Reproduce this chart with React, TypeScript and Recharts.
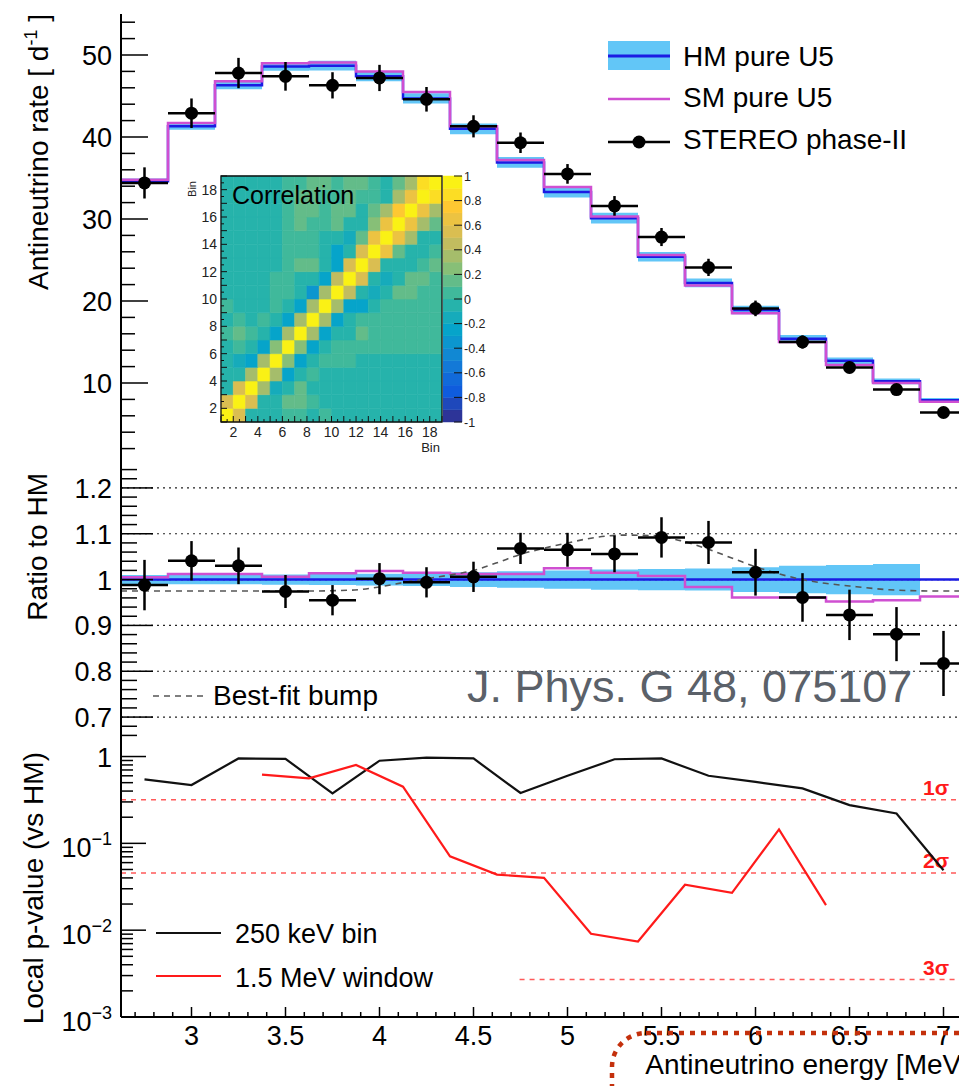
import React from 'react';
import {
  ComposedChart,
  Line,
  Area,
  Scatter,
  ErrorBar,
  XAxis,
  YAxis,
  ReferenceLine,
  ReferenceArea,
} from 'recharts';

const FONT = '"Liberation Sans", Arial, Helvetica, sans-serif';

// 18 bins of 250 keV
const binEdges = [2.625, 2.875, 3.125, 3.375, 3.625, 3.875, 4.125, 4.375, 4.625, 4.875, 5.125, 5.375, 5.625, 5.875, 6.125, 6.375, 6.625, 6.875, 7.125];
const binCenters = [2.75, 3.0, 3.25, 3.5, 3.75, 4.0, 4.25, 4.5, 4.75, 5.0, 5.25, 5.5, 5.75, 6.0, 6.25, 6.5, 6.75, 7.0];
const binHalfWidth = 0.125;

// rates [1/day]
const hmRate = [34.6, 41.3, 46.3, 48.6, 48.7, 47.4, 44.7, 41.0, 36.9, 33.3, 30.1, 25.4, 22.2, 18.9, 15.4, 12.7, 10.2, 7.9];
const smRate = [34.8, 41.7, 46.8, 49.0, 49.1, 48.0, 45.5, 41.3, 37.2, 33.9, 30.3, 25.6, 21.9, 18.5, 15.0, 12.2, 10.0, 7.7];
const hmRelUnc = [0.010, 0.010, 0.010, 0.011, 0.012, 0.013, 0.014, 0.016, 0.018, 0.020, 0.022, 0.023, 0.024, 0.027, 0.030, 0.032, 0.034, 0.036];
const stereoRate = [34.4, 42.9, 47.8, 47.4, 46.3, 47.2, 44.6, 41.3, 39.3, 35.5, 31.6, 27.8, 24.1, 19.1, 15.0, 11.9, 9.2, 6.4];
const stereoRateErr = [1.9, 1.8, 1.85, 1.75, 1.6, 1.6, 1.5, 1.35, 1.25, 1.2, 1.2, 1.1, 1.05, 0.95, 0.8, 0.7, 0.6, 0.55];

// ratios to HM
const stereoRatio = [0.988, 1.041, 1.030, 0.974, 0.955, 1.002, 0.994, 1.006, 1.068, 1.065, 1.056, 1.092, 1.081, 1.016, 0.961, 0.923, 0.881, 0.817];
const stereoRatioErr = [0.055, 0.043, 0.040, 0.036, 0.033, 0.034, 0.033, 0.033, 0.034, 0.037, 0.040, 0.044, 0.047, 0.051, 0.053, 0.055, 0.059, 0.071];
const smRatio = [1.005, 1.012, 1.012, 1.006, 1.014, 1.019, 1.015, 1.012, 1.012, 1.025, 1.015, 1.008, 0.984, 0.961, 0.961, 0.952, 0.955, 0.963];
const bumpEnergy = [2.625, 3.6, 3.85, 4.0, 4.12, 4.25, 4.375, 4.5, 4.62, 4.75, 4.87, 5.0, 5.15, 5.3, 5.45, 5.6, 5.75, 5.9, 6.0, 6.12, 6.25, 6.37, 6.5, 6.75, 7.0, 7.125];
const bumpRatio = [0.975, 0.975, 0.977, 0.984, 0.993, 1.002, 1.010, 1.020, 1.036, 1.055, 1.068, 1.080, 1.092, 1.097, 1.096, 1.085, 1.066, 1.043, 1.028, 1.013, 1.000, 0.992, 0.986, 0.977, 0.975, 0.975];
const ratioGrid = [0.7, 0.8, 0.9, 1.0, 1.1, 1.2];

// local p-values
const pBin = [0.546, 0.47, 0.95, 0.94, 0.376, 0.895, 0.97, 0.95, 0.38, 0.60, 0.93, 0.95, 0.60, 0.51, 0.43, 0.276, 0.221, 0.049];
const windowCenters = [3.375, 3.625, 3.875, 4.125, 4.375, 4.625, 4.875, 5.125, 5.375, 5.625, 5.875, 6.125, 6.375];
const pWindow = [0.62, 0.56, 0.80, 0.45, 0.071, 0.0437, 0.040, 0.0091, 0.0074, 0.0334, 0.0269, 0.145, 0.0194];
const sigmaNames = ['1σ', '2σ', '3σ'];
const sigmaP = [0.3173, 0.0455, 0.0027];
const sigmaFrom = [2.625, 2.625, 4.745];

// bin-to-bin correlation (row = y bin, col = x bin)
const corrMatrix = [
  [1, 0.5, -0.05, -0.05, -0.05, 0.05, 0.05, -0.05, 0.05, -0.05, -0.05, -0.05, -0.05, -0.05, -0.05, -0.05, -0.05, -0.05],
  [0.5, 1, 0.5, -0.1, -0.05, 0.1, 0.1, 0.05, -0.05, -0.05, -0.05, -0.05, -0.05, -0.05, -0.05, -0.05, -0.05, -0.05],
  [-0.05, 0.55, 1, 0.3, -0.15, -0.05, 0.1, -0.05, -0.05, -0.05, -0.05, -0.05, -0.05, -0.05, -0.05, -0.05, -0.05, -0.05],
  [-0.1, -0.05, 0.3, 1, 0.3, -0.3, -0.05, 0.05, -0.05, -0.05, -0.05, -0.05, -0.05, -0.05, -0.05, -0.05, -0.05, -0.05],
  [-0.05, -0.15, -0.25, 0.3, 1, 0.25, -0.3, -0.05, 0.05, 0.05, 0.05, -0.05, -0.05, -0.05, -0.05, -0.05, -0.05, -0.05],
  [-0.05, 0.05, -0.05, -0.3, 0.25, 1, 0.25, -0.3, -0.05, 0.05, 0.05, 0.05, 0.05, 0.05, 0.05, 0.05, 0.05, 0.05],
  [0.05, 0.1, 0.05, -0.05, -0.3, 0.3, 1, 0.3, -0.3, -0.05, -0.05, 0.1, 0.05, 0.05, 0.05, 0.05, 0.05, 0.05],
  [-0.05, 0.05, -0.05, 0.05, -0.05, -0.3, 0.3, 1, 0.3, -0.3, -0.05, 0.05, 0.05, 0.05, 0.05, 0.05, 0.05, 0.05],
  [0.05, -0.05, -0.05, -0.05, 0.05, -0.05, -0.3, 0.3, 1, 0.35, -0.3, -0.25, -0.05, 0.05, 0.05, 0.05, 0.05, 0.05],
  [-0.05, -0.05, -0.05, -0.05, 0.05, 0.05, -0.05, -0.35, 0.35, 1, 0.45, -0.05, -0.2, -0.05, 0.1, 0.1, 0.05, 0.05],
  [-0.05, -0.05, -0.05, -0.05, 0.05, 0.05, -0.05, -0.05, -0.3, 0.45, 1, 0.5, -0.05, -0.15, -0.05, 0.1, 0.1, 0.05],
  [-0.05, -0.05, -0.05, -0.05, -0.05, 0.05, 0.1, 0.15, -0.05, -0.3, 0.5, 1, 0.55, -0.1, -0.05, -0.05, 0.05, 0.1],
  [-0.05, -0.05, -0.05, -0.05, -0.05, 0.05, 0.05, 0.05, -0.05, -0.3, -0.05, 0.55, 1, 0.6, 0.1, -0.05, -0.05, 0.05],
  [-0.05, -0.05, -0.05, -0.05, -0.05, 0.05, 0.05, 0.05, -0.05, -0.05, -0.15, 0.1, 0.6, 1, 0.65, 0.3, -0.05, -0.05],
  [-0.05, -0.05, -0.05, -0.05, -0.05, 0.05, 0.1, 0.05, 0.05, 0.1, -0.05, -0.05, 0.2, 0.65, 1, 0.65, 0.3, 0.1],
  [-0.05, -0.05, -0.05, -0.05, -0.05, 0.05, 0.1, 0.1, 0.05, 0.1, 0.1, -0.05, 0.1, 0.35, 0.7, 1, 0.65, 0.35],
  [-0.05, -0.05, -0.05, -0.05, -0.05, 0.05, 0.1, 0.1, 0.05, 0.05, 0.1, 0.05, 0.05, -0.05, 0.3, 0.65, 1, 0.85],
  [-0.05, -0.05, -0.05, -0.05, -0.05, 0.05, 0.05, 0.1, 0.1, 0.05, 0.1, 0.1, 0.05, -0.05, 0.1, 0.35, 0.85, 1],
];

// axis ticks
const energyTicks = Array.from({ length: 45 }, (_, k) => Math.round((2.7 + k * 0.1) * 10) / 10);
const rateTicks = Array.from({ length: 27 }, (_, k) => 2 + 2 * k);
const ratioTicks = Array.from({ length: 30 }, (_, k) => Math.round((0.66 + 0.02 * k) * 100) / 100);
const pTicks = [-3, -2, -1].flatMap((d) => [1, 2, 3, 4, 5, 6, 7, 8, 9].map((m) => m * Math.pow(10, d))).concat([1]);
const binTicks = Array.from({ length: 37 }, (_, k) => 1 + k * 0.5);
const paletteTicks = [-1, -0.8, -0.6, -0.4, -0.2, 0, 0.2, 0.4, 0.6, 0.8, 1];
const paletteLevels = Array.from({ length: 20 }, (_, k) => Math.round((-1 + k * 0.1) * 10) / 10);

// ROOT kBird palette
const birdStops = [
  [0.2082, 0.1664, 0.5293], [0.0592, 0.3599, 0.8684], [0.078, 0.5041, 0.8385],
  [0.0232, 0.6419, 0.7914], [0.1802, 0.7178, 0.6425], [0.5301, 0.7492, 0.4662],
  [0.8186, 0.7328, 0.3499], [0.9956, 0.7862, 0.1968], [0.9764, 0.9832, 0.0539],
];
function birdColor(c: number) {
  const k = Math.min(19, Math.max(0, Math.floor((c + 1) / 0.1 + 1e-9)));
  const t = ((k + 0.5) / 20) * 8;
  const i = Math.min(7, Math.floor(t));
  const f = t - i;
  const rgb = birdStops[i].map((s, ch) => Math.round(255 * (s + (birdStops[i + 1][ch] - s) * f)));
  return `rgb(${rgb.join(',')})`;
}

const BLUE = '#1b1be3';
const BAND = '#62c6f7';
const MAGENTA = '#cf4fd1';
const frameLine = { stroke: '#000', strokeWidth: 2 };

// series tables
const stepOf = (vals: number[]) => binEdges.map((e, i) => ({ e, v: vals[Math.min(i, vals.length - 1)] }));
const bandOf = (center: number[], rel: number[]) =>
  binEdges.map((e, i) => {
    const k = Math.min(i, center.length - 1);
    return { e, band: [center[k] * (1 - rel[k]), center[k] * (1 + rel[k])] };
  });

const hmStep = stepOf(hmRate);
const smStep = stepOf(smRate);
const hmBand = bandOf(hmRate, hmRelUnc);
const stereoPts = binCenters.map((e, i) => ({ e, v: stereoRate[i], ey: stereoRateErr[i], ex: binHalfWidth }));

const hmRatioStep = binEdges.map((e) => ({ e, v: 1 }));
const hmRatioBand = bandOf(binEdges.map(() => 1), hmRelUnc);
const smRatioStep = stepOf(smRatio);
const ratioPts = binCenters.map((e, i) => ({ e, v: stereoRatio[i], ey: stereoRatioErr[i], ex: binHalfWidth }));
const bumpLine = bumpEnergy.map((e, i) => ({ e, v: bumpRatio[i] }));

const pBinLine = binCenters.map((e, i) => ({ e, v: pBin[i] }));
const pWindowLine = windowCenters.map((e, i) => ({ e, v: pWindow[i] }));

function EnergyTick(props: any) {
  const { x, y, payload, side, majorLen, minorLen, labelled } = props;
  const v = payload.value;
  const major = Math.round(v * 10) % 5 === 0;
  const len = major ? majorLen : minorLen;
  const dir = side === 'top' ? 1 : -1;
  return (
    <g>
      <line x1={x} x2={x} y1={y} y2={y + dir * len} stroke="#000" strokeWidth={1.5} />
      {labelled && major ? (
        <text x={x} y={y + 28} textAnchor="middle" fontSize={27} fontFamily={FONT} fill="#000">
          {String(v)}
        </text>
      ) : null}
    </g>
  );
}

function ValueTick(props: any) {
  const { x, y, payload, kind, majorLen, minorLen } = props;
  const v = payload.value;
  let major = false;
  let label: React.ReactNode = null;
  if (kind === 'rate') {
    major = v % 10 === 0;
    label = String(v);
  } else if (kind === 'ratio') {
    major = Math.round(v * 100) % 10 === 0;
    label = String(v);
  } else {
    const d = Math.round(Math.log10(v));
    major = Math.abs(Math.log10(v) - d) < 1e-6;
    label = d === 0 ? '1' : (
      <>
        10<tspan dy={-12} fontSize={18}>{`−${-d}`}</tspan>
      </>
    );
  }
  const len = major ? majorLen : minorLen;
  const dy = kind === 'p' && major && v !== 1 ? 14 : 10;
  return (
    <g>
      <line x1={x} x2={x + len} y1={y} y2={y} stroke="#000" strokeWidth={1.5} />
      {major ? (
        <text x={x - 9} y={y + dy} textAnchor="end" fontSize={27} fontFamily={FONT} fill="#000">
          {label}
        </text>
      ) : null}
    </g>
  );
}

function BinTick(props: any) {
  const { x, y, payload, side } = props;
  const v = payload.value;
  const even = Number.isInteger(v) && v % 2 === 0;
  const len = Number.isInteger(v) ? 6 : 3;
  if (side === 'bottom') {
    return (
      <g>
        <line x1={x} x2={x} y1={y} y2={y - len} stroke="#111" strokeWidth={1} />
        {even ? (
          <text x={x} y={y + 15} textAnchor="middle" fontSize={14} fontFamily={FONT} fill="#222">{v}</text>
        ) : null}
      </g>
    );
  }
  return (
    <g>
      <line x1={x} x2={x + len} y1={y} y2={y} stroke="#111" strokeWidth={1} />
      {even ? (
        <text x={x - 4} y={y + 5} textAnchor="end" fontSize={14} fontFamily={FONT} fill="#222">{v}</text>
      ) : null}
    </g>
  );
}

function PaletteTick(props: any) {
  const { x, y, payload } = props;
  return (
    <g>
      <line x1={x - 8} x2={x} y1={y} y2={y} stroke="#111" strokeWidth={1} />
      <text x={x + 2} y={y + 4.5} fontSize={12.5} fontFamily={FONT} fill="#222">{String(payload.value)}</text>
    </g>
  );
}

function SigmaLabel(props: any) {
  const { viewBox, text } = props;
  if (!viewBox) return null;
  return (
    <text
      x={viewBox.x + viewBox.width - 18}
      y={viewBox.y - 5}
      textAnchor="end"
      fontSize={21}
      fontWeight="bold"
      fontFamily={FONT}
      fill="#ff1a1a"
    >
      {text}
    </text>
  );
}

const dot = (p: any) => <circle cx={p.cx} cy={p.cy} r={6.5} fill="#000" />;

function energyAxes(bottomMajor: number, bottomMinor: number, topMajor: number, topMinor: number, labelled: boolean, height: number) {
  return [
    <XAxis
      key="xb"
      type="number"
      dataKey="e"
      domain={[2.625, 7.125]}
      allowDataOverflow
      ticks={energyTicks}
      interval={0}
      height={height}
      tickSize={0}
      tickMargin={0}
      axisLine={frameLine}
      tickLine={false}
      tick={<EnergyTick side="bottom" majorLen={bottomMajor} minorLen={bottomMinor} labelled={labelled} />}
    />,
    <XAxis
      key="xt"
      xAxisId="top"
      orientation="top"
      type="number"
      dataKey="e"
      domain={[2.625, 7.125]}
      allowDataOverflow
      ticks={energyTicks}
      interval={0}
      height={0}
      tickSize={0}
      tickMargin={0}
      axisLine={frameLine}
      tickLine={false}
      tick={<EnergyTick side="top" majorLen={topMajor} minorLen={topMinor} labelled={false} />}
    />,
  ];
}

function RatePanel() {
  return (
    <ComposedChart width={990} height={466} margin={{ top: 14, right: 23, bottom: 1, left: 0 }}>
      {energyAxes(10, 5, 11, 5.5, false, 0)}
      <YAxis
        type="number"
        domain={[0, 55]}
        allowDataOverflow
        ticks={rateTicks}
        interval={0}
        width={121}
        tickSize={0}
        tickMargin={0}
        axisLine={frameLine}
        tickLine={false}
        tick={<ValueTick kind="rate" majorLen={27} minorLen={14} />}
      />
      <Area data={hmBand} dataKey="band" type="stepAfter" fill={BAND} fillOpacity={1} stroke="none" isAnimationActive={false} />
      <Line data={hmStep} dataKey="v" type="stepAfter" stroke={BLUE} strokeWidth={2.5} dot={false} isAnimationActive={false} />
      <Line data={smStep} dataKey="v" type="stepAfter" stroke={MAGENTA} strokeWidth={2.5} dot={false} isAnimationActive={false} />
      <Scatter data={stereoPts} dataKey="v" shape={dot} isAnimationActive={false}>
        <ErrorBar dataKey="ey" direction="y" width={0} stroke="#000" strokeWidth={2.5} isAnimationActive={false} />
        <ErrorBar dataKey="ex" direction="x" width={0} stroke="#000" strokeWidth={2.5} isAnimationActive={false} />
      </Scatter>
    </ComposedChart>
  );
}

function RatioPanel() {
  return (
    <ComposedChart width={990} height={276} margin={{ top: 0, right: 23, bottom: 1, left: 0 }}>
      {energyAxes(6, 3.5, 7, 4, false, 0)}
      <YAxis
        type="number"
        domain={[0.65, 1.25]}
        allowDataOverflow
        ticks={ratioTicks}
        interval={0}
        width={121}
        tickSize={0}
        tickMargin={0}
        axisLine={frameLine}
        tickLine={false}
        tick={<ValueTick kind="ratio" majorLen={32} minorLen={16} />}
      />
      {ratioGrid.map((g) => (
        <ReferenceLine key={g} y={g} stroke="#222" strokeWidth={1.2} strokeDasharray="2 4" />
      ))}
      <Area data={hmRatioBand} dataKey="band" type="stepAfter" fill={BAND} fillOpacity={1} stroke="none" isAnimationActive={false} />
      <Line data={hmRatioStep} dataKey="v" type="stepAfter" stroke={BLUE} strokeWidth={2.5} dot={false} isAnimationActive={false} />
      <Line data={smRatioStep} dataKey="v" type="stepAfter" stroke={MAGENTA} strokeWidth={2.5} dot={false} isAnimationActive={false} />
      <Line data={bumpLine} dataKey="v" type="monotone" stroke="#555" strokeWidth={1.6} strokeDasharray="6 5" dot={false} isAnimationActive={false} />
      <Scatter data={ratioPts} dataKey="v" shape={dot} isAnimationActive={false}>
        <ErrorBar dataKey="ey" direction="y" width={0} stroke="#000" strokeWidth={2.5} isAnimationActive={false} />
        <ErrorBar dataKey="ex" direction="x" width={0} stroke="#000" strokeWidth={2.5} isAnimationActive={false} />
      </Scatter>
    </ComposedChart>
  );
}

function PValuePanel() {
  return (
    <ComposedChart width={990} height={346} margin={{ top: 0, right: 23, bottom: 0, left: 0 }}>
      {energyAxes(10, 5, 7, 4, true, 69)}
      <YAxis
        type="number"
        scale="log"
        domain={[0.001, 1.55]}
        allowDataOverflow
        ticks={pTicks}
        interval={0}
        width={121}
        tickSize={0}
        tickMargin={0}
        axisLine={frameLine}
        tickLine={false}
        tick={<ValueTick kind="p" majorLen={25} minorLen={12} />}
      />
      {sigmaP.map((p, i) => (
        <ReferenceLine
          key={sigmaNames[i]}
          segment={[{ x: sigmaFrom[i], y: p }, { x: 7.125, y: p }]}
          stroke="#ff5a5a"
          strokeWidth={1.5}
          strokeDasharray="5 5"
          label={<SigmaLabel text={sigmaNames[i]} />}
        />
      ))}
      <Line data={pBinLine} dataKey="v" type="linear" stroke="#111" strokeWidth={2.2} dot={false} isAnimationActive={false} />
      <Line data={pWindowLine} dataKey="v" type="linear" stroke="#ff1a1a" strokeWidth={2.2} dot={false} isAnimationActive={false} />
    </ComposedChart>
  );
}

function CorrelationInset() {
  return (
    <ComposedChart width={300} height={300} margin={{ top: 16, right: 8, bottom: 0, left: 0 }}>
      <XAxis
        type="number"
        dataKey="x"
        domain={[1, 19]}
        allowDataOverflow
        ticks={binTicks}
        interval={0}
        height={38}
        tickSize={0}
        tickMargin={0}
        axisLine={false}
        tickLine={false}
        tick={<BinTick side="bottom" />}
      />
      <YAxis
        type="number"
        domain={[1, 19]}
        allowDataOverflow
        ticks={binTicks}
        interval={0}
        width={71}
        tickSize={0}
        tickMargin={0}
        axisLine={false}
        tickLine={false}
        tick={<BinTick side="left" />}
      />
      {corrMatrix.flatMap((row, i) =>
        row.map((c, j) => {
          const col = birdColor(c);
          return (
            <ReferenceArea
              key={`${i}-${j}`}
              x1={j + 1}
              x2={j + 2}
              y1={i + 1}
              y2={i + 2}
              fill={col}
              fillOpacity={1}
              stroke={col}
              strokeWidth={0.6}
            />
          );
        }),
      )}
      <ReferenceArea x1={1} x2={19} y1={1} y2={19} fill="none" stroke="#111" strokeWidth={1.3} />
    </ComposedChart>
  );
}

function PaletteAxis() {
  return (
    <ComposedChart width={55} height={300} margin={{ top: 16, right: 0, bottom: 0, left: 0 }}>
      <XAxis type="number" dataKey="x" domain={[0, 1]} allowDataOverflow height={38} tick={false} axisLine={false} tickLine={false} />
      <YAxis
        type="number"
        orientation="right"
        domain={[-1, 1]}
        allowDataOverflow
        ticks={paletteTicks}
        interval={0}
        width={36}
        tickSize={0}
        tickMargin={0}
        axisLine={false}
        tickLine={false}
        tick={<PaletteTick />}
      />
      {paletteLevels.map((lv) => (
        <ReferenceArea
          key={lv}
          x1={0}
          x2={1}
          y1={lv}
          y2={lv + 0.1}
          fill={birdColor(lv + 0.05)}
          fillOpacity={1}
          stroke={birdColor(lv + 0.05)}
          strokeWidth={0.5}
        />
      ))}
    </ComposedChart>
  );
}

function Annotations() {
  return (
    <svg width={959} height={1086} style={{ position: 'absolute', left: 0, top: 0, pointerEvents: 'none' }} fontFamily={FONT}>
      {/* axis titles */}
      <text transform="translate(48,14) rotate(-90)" textAnchor="end" fontSize={28} fill="#000">
        Antineutrino rate [ d<tspan dy={-11} fontSize={18}>-1</tspan><tspan dy={11}> ]</tspan>
      </text>
      <text transform="translate(47,473) rotate(-90)" textAnchor="end" fontSize={28} fill="#000">
        Ratio to HM
      </text>
      <text transform="translate(43,752) rotate(-90)" textAnchor="end" fontSize={28} fill="#000">
        Local p-value (vs HM)
      </text>
      <text x={969} y={1074} textAnchor="end" fontSize={28} fill="#000">
        Antineutrino energy [MeV]
      </text>

      {/* rate legend */}
      <rect x={608} y={41} width={62} height={29} fill={BAND} />
      <line x1={608} x2={670} y1={56} y2={56} stroke={BLUE} strokeWidth={3} />
      <text x={683} y={66} fontSize={28} fill="#000">HM pure U5</text>
      <line x1={608} x2={670} y1={99} y2={99} stroke={MAGENTA} strokeWidth={2.5} />
      <text x={683} y={107} fontSize={28} fill="#000">SM pure U5</text>
      <line x1={608} x2={670} y1={142} y2={142} stroke="#000" strokeWidth={2.5} />
      <circle cx={639} cy={142} r={6.5} fill="#000" />
      <text x={683} y={149} fontSize={28} fill="#000">STEREO phase-II</text>

      {/* correlation inset labels */}
      <text x={232} y={204} fontSize={25} fill="#000">Correlation</text>
      <text x={440} y={452} textAnchor="end" fontSize={13} fill="#222">Bin</text>
      <text transform="translate(196,181) rotate(-90)" textAnchor="end" fontSize={11} fill="#222">Bin</text>

      {/* ratio legend */}
      <line x1={153} x2={203} y1={696} y2={696} stroke="#555" strokeWidth={1.6} strokeDasharray="6 5" />
      <text x={213} y={705} fontSize={28} fill="#000">Best-fit bump</text>
      <text x={467} y={702} fontSize={45} fill="#5b6169">J. Phys. G 48, 075107</text>

      {/* p-value legend */}
      <line x1={156} x2={221} y1={933} y2={933} stroke="#111" strokeWidth={2.2} />
      <text x={235} y={943} fontSize={27} fill="#000">250 keV bin</text>
      <line x1={156} x2={221} y1={976} y2={976} stroke="#ff1a1a" strokeWidth={2.2} />
      <text x={235} y={987} fontSize={27} fill="#000">1.5 MeV window</text>

      {/* dotted callout round the energy axis title */}
      <rect x={612} y={1033} width={420} height={120} rx={34} fill="none" stroke="#c4300c" strokeWidth={4.5} strokeDasharray="5 6" />
    </svg>
  );
}

export default function App() {
  return (
    <div style={{ position: 'fixed', left: 0, top: 0, width: 959, height: 1086, overflow: 'hidden', background: '#fff', fontFamily: FONT }}>
      <div style={{ position: 'absolute', left: 0, top: 0 }}>
        <RatePanel />
      </div>
      <div style={{ position: 'absolute', left: 0, top: 465 }}>
        <RatioPanel />
      </div>
      <div style={{ position: 'absolute', left: 0, top: 740 }}>
        <PValuePanel />
      </div>
      <div style={{ position: 'absolute', left: 150, top: 160 }}>
        <CorrelationInset />
      </div>
      <div style={{ position: 'absolute', left: 443, top: 160 }}>
        <PaletteAxis />
      </div>
      <Annotations />
    </div>
  );
}
